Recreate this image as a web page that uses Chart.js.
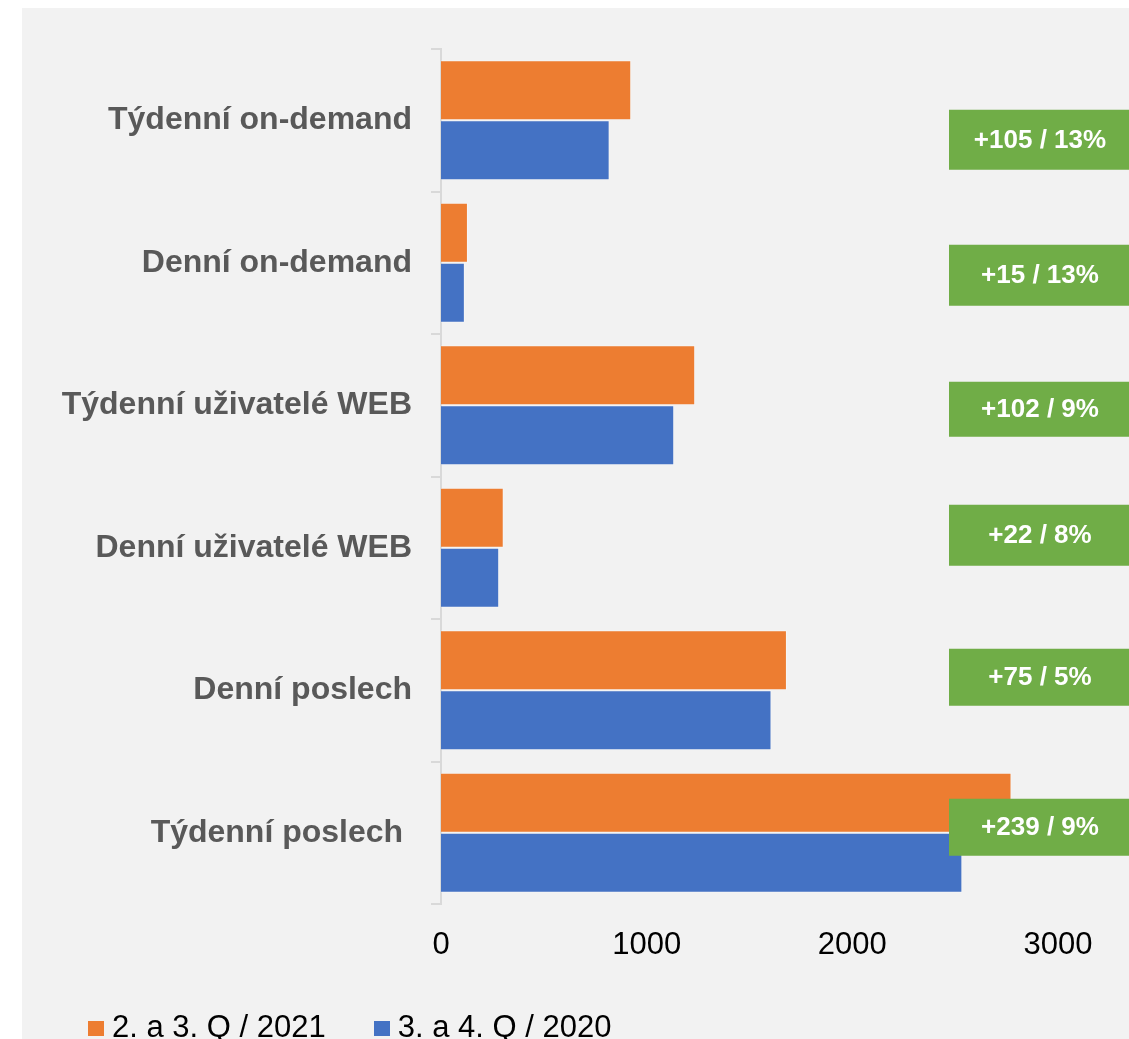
<!DOCTYPE html>
<html>
<head>
<meta charset="utf-8">
<script src="https://cdn.jsdelivr.net/npm/chart.js@4/dist/chart.umd.min.js"></script>
<style>
  html, body { margin: 0; padding: 0; background: #ffffff; }
  #wrap { position: relative; width: 1129px; height: 1039px; }
</style>
</head>
<body>
<div id="wrap"><canvas id="c" width="1129" height="1039"></canvas></div>
<script>
// ---- data ----
const categories = ['Týdenní on-demand', 'Denní on-demand', 'Týdenní uživatelé WEB', 'Denní uživatelé WEB', 'Denní poslech', 'Týdenní poslech '];
const seriesNames = ['2. a 3. Q / 2021', '3. a 4. Q / 2020'];
const values2021 = [925, 131, 1236, 305, 1682, 2774];
const values2020 = [820, 116, 1134, 283, 1607, 2535];
const gapLabels = ['+105 / 13%', '+15 / 13%', '+102 / 9%', '+22 / 8%', '+75 / 5%', '+239 / 9%'];
const xTicks = [0, 1000, 2000, 3000];

// ---- layout / style ----
const seriesColors = ['#ed7d31', '#4472c4'];
const gapBoxShift = [19.5, 12.5, 4, -12.5, -13, -5.5];
const gapBoxHeight = [60, 61, 55, 61, 57, 57];
const FONT = '"Liberation Sans", Arial, sans-serif';

function swatch(color) {
  const c = document.createElement('canvas');
  c.width = 16; c.height = 15;
  const g = c.getContext('2d');
  g.fillStyle = color;
  g.fillRect(0, 0, 16, 15);
  return c;
}
const swatches = seriesColors.map(swatch);

const bgPlugin = {
  id: 'bg',
  beforeDraw(chart) {
    const ctx = chart.ctx;
    ctx.save();
    ctx.fillStyle = '#ffffff';
    ctx.fillRect(0, 0, chart.width, chart.height);
    ctx.fillStyle = '#f2f2f2';
    ctx.fillRect(22, 8, chart.width - 22, chart.height - 8);
    ctx.restore();
  }
};

const gapPlugin = {
  id: 'gapBoxes',
  afterDraw(chart) {
    const ctx = chart.ctx;
    const y = chart.scales.y;
    const area = chart.chartArea;
    const left = area.right - 109;
    const right = chart.width;
    ctx.save();
    gapLabels.forEach((txt, i) => {
      const cy = y.getPixelForValue(i) + gapBoxShift[i];
      const h = gapBoxHeight[i];
      ctx.fillStyle = '#70ad47';
      ctx.fillRect(left, cy - h / 2, right - left, h);
      ctx.fillStyle = '#ffffff';
      ctx.font = 'bold 26px ' + FONT;
      ctx.textAlign = 'center';
      ctx.textBaseline = 'middle';
      ctx.fillText(txt, (left + right) / 2 + 1, cy + 1);
    });
    ctx.restore();
  }
};

new Chart(document.getElementById('c'), {
  type: 'bar',
  data: {
    labels: categories,
    datasets: [
      { label: seriesNames[0], data: values2021, backgroundColor: seriesColors[0], borderColor: 'rgba(255,255,255,0.35)', borderWidth: 1 },
      { label: seriesNames[1], data: values2020, backgroundColor: seriesColors[1], borderColor: 'rgba(255,255,255,0.35)', borderWidth: 1 }
    ]
  },
  options: {
    indexAxis: 'y',
    responsive: false,
    animation: false,
    devicePixelRatio: 1,
    datasets: { bar: { categoryPercentage: 0.842, barPercentage: 1.0 } },
    layout: { padding: { left: 40, right: 71, top: 49, bottom: -14.5 } },
    scales: {
      x: {
        min: 0, max: 3000,
        afterBuildTicks(scale) { scale.ticks = xTicks.map(v => ({ value: v })); },
        afterFit(scale) { scale.height = 53; },
        grid: { display: false, drawTicks: false },
        border: { display: false },
        ticks: {
          color: '#000000',
          padding: 23,
          font: { family: FONT, size: 31 },
          callback: v => String(v),
          maxRotation: 0
        }
      },
      y: {
        afterFit(scale) { scale.width = 401; },
        grid: { display: true, drawOnChartArea: false, drawTicks: true, tickLength: 10, color: '#d9d9d9', lineWidth: 2, offset: true },
        border: { display: true, color: '#d9d9d9', width: 2 },
        ticks: {
          color: '#595959',
          padding: 19,
          font: { family: FONT, size: 32, weight: 'bold' }
        }
      }
    },
    plugins: {
      legend: {
        position: 'bottom',
        align: 'start',
        labels: {
          usePointStyle: true,
          boxWidth: 1,
          boxHeight: 15,
          padding: 55.5,
          color: '#000000',
          font: { family: FONT, size: 31 },
          generateLabels(chart) {
            const items = Chart.defaults.plugins.legend.labels.generateLabels(chart);
            items.forEach((it, i) => { it.pointStyle = swatches[i]; });
            return items;
          }
        }
      },
      tooltip: { enabled: false }
    }
  },
  plugins: [bgPlugin, gapPlugin]
});
</script>
</body>
</html>
